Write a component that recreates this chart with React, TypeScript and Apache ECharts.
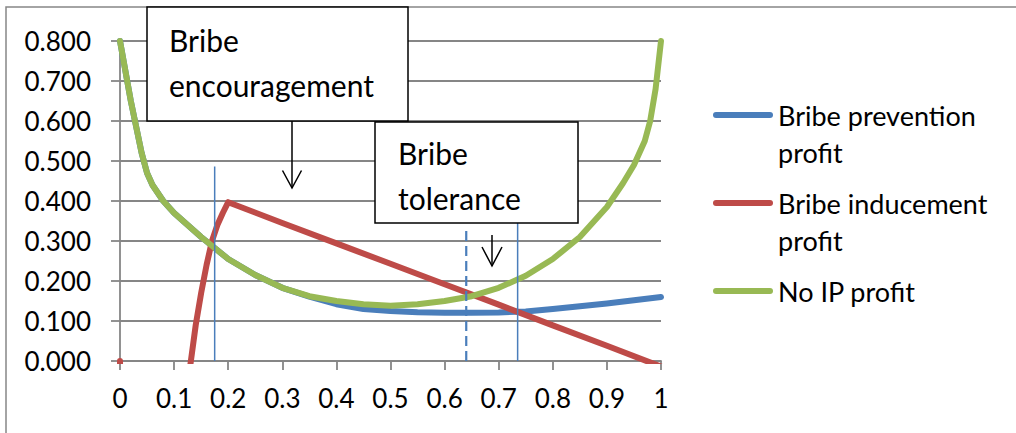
import React, { useEffect, useRef } from 'react';
import * as echarts from 'echarts';

const xTickLabels = ['0', '0.1', '0.2', '0.3', '0.4', '0.5', '0.6', '0.7', '0.8', '0.9', '1'];
const yTickLabels = ['0.000', '0.100', '0.200', '0.300', '0.400', '0.500', '0.600', '0.700', '0.800'];

const seriesNames = ['Bribe prevention profit', 'Bribe inducement profit', 'No IP profit'];
const legendFirstLines = ['Bribe prevention', 'Bribe inducement', 'No IP profit'];
const legendSecondLines = ['profit', 'profit', ''];

const preventionX = [0, 0.02, 0.04, 0.05, 0.06, 0.08, 0.1, 0.15, 0.2, 0.25, 0.3, 0.35, 0.4, 0.45, 0.5, 0.55, 0.6, 0.65, 0.7, 0.75, 0.8, 0.85, 0.9, 0.95, 1];
const preventionY = [0.8, 0.65, 0.52, 0.47, 0.44, 0.4, 0.37, 0.31, 0.255, 0.215, 0.183, 0.161, 0.142, 0.13, 0.125, 0.122, 0.1205, 0.1205, 0.1215, 0.124, 0.13, 0.137, 0.144, 0.152, 0.16];

const inducementX = [0, 0.01, 0.13, 0.14, 0.15, 0.16, 0.17, 0.18, 0.19, 0.2, 0.3, 0.4, 0.5, 0.6, 0.7, 0.8, 0.9, 1];
const inducementY = [0, -1, -0.01, 0.09, 0.17, 0.24, 0.3, 0.34, 0.37, 0.397, 0.345, 0.294, 0.243, 0.192, 0.141, 0.089, 0.038, -0.014];

const noIpX = [0, 0.02, 0.04, 0.05, 0.06, 0.08, 0.1, 0.15, 0.2, 0.25, 0.3, 0.35, 0.4, 0.45, 0.5, 0.55, 0.6, 0.65, 0.7, 0.75, 0.8, 0.85, 0.9, 0.93, 0.95, 0.97, 0.98, 0.99, 1];
const noIpY = [0.8, 0.65, 0.52, 0.47, 0.44, 0.4, 0.37, 0.31, 0.255, 0.215, 0.183, 0.162, 0.15, 0.142, 0.138, 0.142, 0.15, 0.162, 0.183, 0.213, 0.255, 0.31, 0.385, 0.445, 0.49, 0.55, 0.6, 0.68, 0.8];

const guideX = [0.175, 0.64, 0.735];
const guideTop = [0.486, 0.336, 0.346];
const guideDashed = [false, true, false];

const FONT = 'Lato';
const GRID_COLOR = '#868686';
const COLORS = ['#4a7ebb', '#be4b48', '#98b954'];
const LEGEND_ICON = 'path://M3,0 L57,0 A3,3 0 0 1 57,6 L3,6 A3,3 0 0 1 3,0 Z';

const zip = (xs: number[], ys: number[]) => xs.map((x, i) => [x, ys[i]]);

export default function App() {
  const ref = useRef<HTMLDivElement>(null);

  useEffect(() => {
    if (!ref.current) return;
    const chart = echarts.init(ref.current, undefined, { renderer: 'svg' });

    const lineSeries = [
      zip(preventionX, preventionY),
      zip(inducementX, inducementY),
      zip(noIpX, noIpY),
    ].map((data, i) => ({
      name: seriesNames[i],
      type: 'line',
      data,
      showSymbol: false,
      symbol: 'none',
      clip: true,
      z: 2 + i,
      lineStyle: { color: COLORS[i], width: 6, cap: 'round', join: 'round' },
      itemStyle: { color: COLORS[i] },
      emphasis: { disabled: true },
    }));

    const guideSeries = guideX.map((gx, i) => ({
      type: 'line',
      data: [[gx, 0], [gx, guideTop[i]]],
      showSymbol: false,
      symbol: 'none',
      silent: true,
      z: 10,
      lineStyle: {
        color: '#4a7ebb',
        width: guideDashed[i] ? 2.2 : 1.5,
        type: guideDashed[i] ? [10, 5] : 'solid',
      },
      emphasis: { disabled: true },
    }));

    const legendTextX = 778;
    const legendSecondY = [152, 240];

    const option: any = {
      animation: false,
      backgroundColor: '#ffffff',
      grid: { left: 120, right: 355, top: 41, bottom: 72 },
      xAxis: {
        type: 'value',
        min: 0,
        max: 1,
        interval: 0.1,
        axisLine: { show: true, lineStyle: { color: GRID_COLOR, width: 1.8 } },
        axisTick: { show: true, length: 9, lineStyle: { color: GRID_COLOR, width: 1.8 } },
        splitLine: { show: false },
        axisLabel: {
          margin: 24,
          color: '#000',
          fontFamily: FONT,
          fontSize: 26,
          formatter: (v: number) => xTickLabels[Math.round(v * 10)],
        },
      },
      yAxis: {
        type: 'value',
        min: 0,
        max: 0.8,
        interval: 0.1,
        axisLine: { show: true, lineStyle: { color: GRID_COLOR, width: 1.8 } },
        axisTick: { show: true, length: 9, lineStyle: { color: GRID_COLOR, width: 1.8 } },
        splitLine: { show: true, lineStyle: { color: GRID_COLOR, width: 1.8 } },
        axisLabel: {
          margin: 29,
          color: '#000',
          fontFamily: FONT,
          fontSize: 26,
          formatter: (v: number) => yTickLabels[Math.round(v * 10)],
        },
      },
      legend: {
        data: seriesNames,
        orient: 'vertical',
        left: 713,
        top: 96.5,
        padding: 0,
        itemWidth: 60,
        itemHeight: 6,
        itemGap: 51,
        icon: LEGEND_ICON,
        selectedMode: false,
        formatter: (name: string) => legendFirstLines[seriesNames.indexOf(name)],
        textStyle: {
          fontFamily: FONT,
          fontSize: 27,
          color: '#000',
          lineHeight: 37,
        },
      },
      series: [...lineSeries, ...guideSeries],
      graphic: [
        {
          type: 'rect',
          z: -10,
          silent: true,
          shape: { x: 6, y: 7, width: 1040, height: 460 },
          style: { fill: 'none', stroke: GRID_COLOR, lineWidth: 1.5 },
        },
        ...legendSecondY.map((y, i) => ({
          type: 'text',
          z: 50,
          x: legendTextX,
          y,
          style: {
            text: legendSecondLines[i],
            fontFamily: FONT,
            fontSize: 27,
            fill: '#000',
            verticalAlign: 'middle',
          },
        })),
        {
          type: 'rect',
          z: 100,
          shape: { x: 147, y: 7, width: 261, height: 114 },
          style: { fill: '#ffffff', stroke: '#000', lineWidth: 1.5 },
        },
        {
          type: 'text',
          z: 101,
          x: 169,
          y: 17,
          style: {
            text: 'Bribe\nencouragement',
            fontFamily: FONT,
            fontSize: 30,
            lineHeight: 45,
            fill: '#000',
            verticalAlign: 'top',
          },
        },
        {
          type: 'rect',
          z: 100,
          shape: { x: 375, y: 122, width: 203, height: 101 },
          style: { fill: '#ffffff', stroke: '#000', lineWidth: 1.5 },
        },
        {
          type: 'text',
          z: 101,
          x: 398,
          y: 130.5,
          style: {
            text: 'Bribe\ntolerance',
            fontFamily: FONT,
            fontSize: 30,
            lineHeight: 45,
            fill: '#000',
            verticalAlign: 'top',
          },
        },
        {
          type: 'line',
          z: 100,
          shape: { x1: 292, y1: 121, x2: 292, y2: 188 },
          style: { stroke: '#000', lineWidth: 1.5 },
        },
        {
          type: 'polyline',
          z: 100,
          shape: { points: [[282.5, 170.5], [292, 188], [301.5, 170.5]] },
          style: { stroke: '#000', lineWidth: 1.5, fill: null },
        },
        {
          type: 'line',
          z: 100,
          shape: { x1: 492, y1: 235, x2: 492, y2: 266 },
          style: { stroke: '#000', lineWidth: 1.5 },
        },
        {
          type: 'polyline',
          z: 100,
          shape: { points: [[482, 247], [492, 266], [502, 247]] },
          style: { stroke: '#000', lineWidth: 1.5, fill: null },
        },
      ],
    };

    chart.setOption(option);
    return () => chart.dispose();
  }, []);

  return (
    <div
      ref={ref}
      style={{ position: 'absolute', left: 0, top: 0, width: 1016, height: 433, background: '#fff' }}
    />
  );
}
